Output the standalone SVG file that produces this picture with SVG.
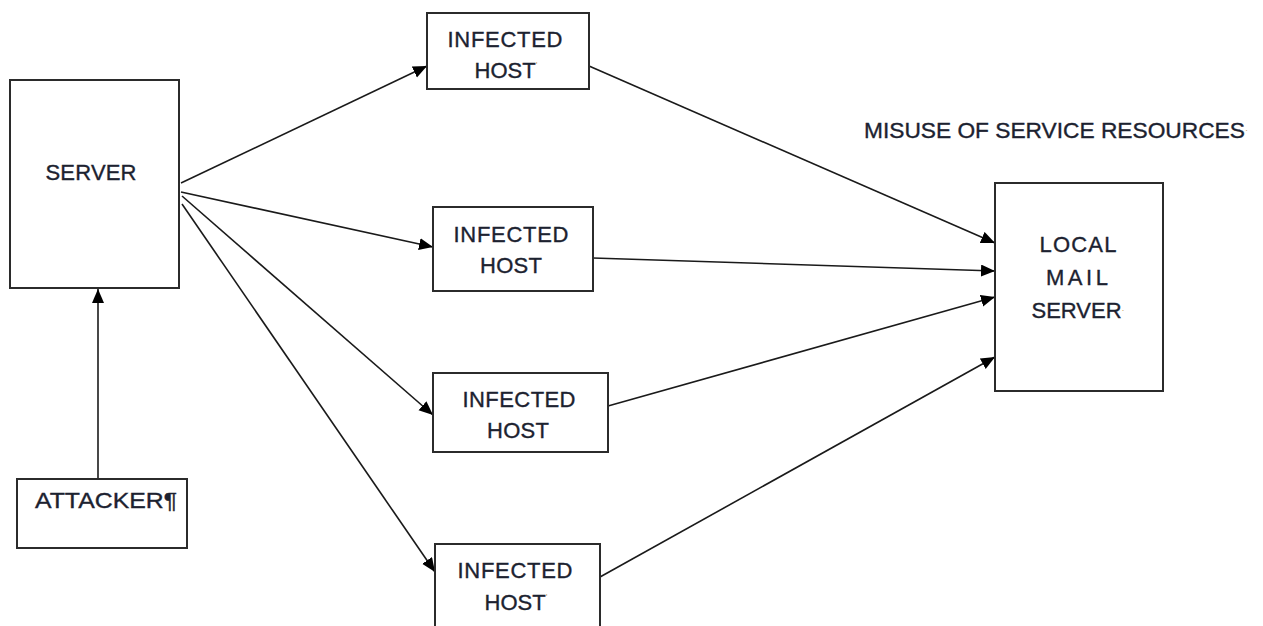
<svg xmlns="http://www.w3.org/2000/svg" width="1263" height="626" viewBox="0 0 1263 626">
<style>
.box{fill:#fff;stroke:#2b2b2b;stroke-width:2}
.lbl{font-family:"Liberation Sans",Arial,sans-serif;font-size:22px;fill:#1c2230;stroke:#1c2230;stroke-width:0.35;text-anchor:middle}
.mk{font-size:9px;fill:#c9a36a;stroke:none}
.edge{stroke:#1a1a1a;stroke-width:1.6;fill:none;marker-end:url(#ah)}
</style>
<defs>
<marker id="ah" markerUnits="userSpaceOnUse" markerWidth="16" markerHeight="14" refX="14" refY="6" orient="auto">
<path d="M0,0 L14,6 L0,12 Z" fill="#000"/>
</marker>
</defs>
<rect width="1263" height="626" fill="#fff"/>
<g id="connectors">
<line class="edge" x1="181" y1="183" x2="427" y2="66"/>
<line class="edge" x1="181" y1="192" x2="433" y2="247"/>
<line class="edge" x1="182" y1="196" x2="433" y2="415"/>
<line class="edge" x1="182" y1="204" x2="435" y2="572"/>
<line class="edge" x1="98" y1="479" x2="98" y2="289"/>
<line class="edge" x1="589" y1="66" x2="995" y2="243"/>
<line class="edge" x1="593" y1="258" x2="995" y2="271"/>
<line class="edge" x1="608" y1="406" x2="995" y2="297"/>
<line class="edge" x1="600" y1="577" x2="995" y2="357"/>
</g>
<g id="server">
<rect class="box" x="10" y="80" width="169" height="208"/>
<text class="lbl" x="91" y="180" textLength="91">SERVER</text>
</g>
<g id="attacker">
<rect class="box" x="17" y="479" width="170" height="69"/>
<text class="lbl" x="106" y="508" textLength="142" lengthAdjust="spacingAndGlyphs">ATTACKER¶</text>
</g>
<g id="host1">
<rect class="box" x="427" y="13" width="162" height="76"/>
<text class="lbl" x="505" y="47" textLength="115">INFECTED</text>
<text class="lbl" x="506" y="78">HOST<tspan class="mk" dy="-10">'</tspan></text>
</g>
<g id="host2">
<rect class="box" x="433" y="207" width="160" height="84"/>
<text class="lbl" x="511" y="242" textLength="115">INFECTED</text>
<text class="lbl" x="511" y="273" textLength="62">HOST</text>
</g>
<g id="host3">
<rect class="box" x="433" y="373" width="175" height="79"/>
<text class="lbl" x="519" y="407" textLength="113">INFECTED</text>
<text class="lbl" x="518" y="438" textLength="62">HOST</text>
</g>
<g id="host4">
<rect class="box" x="435" y="544" width="165" height="90"/>
<text class="lbl" x="515" y="578" textLength="115">INFECTED</text>
<text class="lbl" x="516" y="610">HOST<tspan class="mk" dy="-10">'</tspan></text>
</g>
<g id="mailserver">
<rect class="box" x="995" y="183" width="168" height="208"/>
<text class="lbl" x="1078" y="252" textLength="77">LOCAL</text>
<text class="lbl" x="1077" y="285" textLength="62">MAIL</text>
<text class="lbl" x="1078" y="318">SERVER<tspan class="mk" dy="-5">·</tspan></text>
</g>
<g id="misuse">
<text class="lbl" x="1056" y="138" font-size="20" textLength="384" lengthAdjust="spacingAndGlyphs">MISUSE OF SERVICE RESOURCES<tspan class="mk" dy="-5">·</tspan></text>
</g>
</svg>
